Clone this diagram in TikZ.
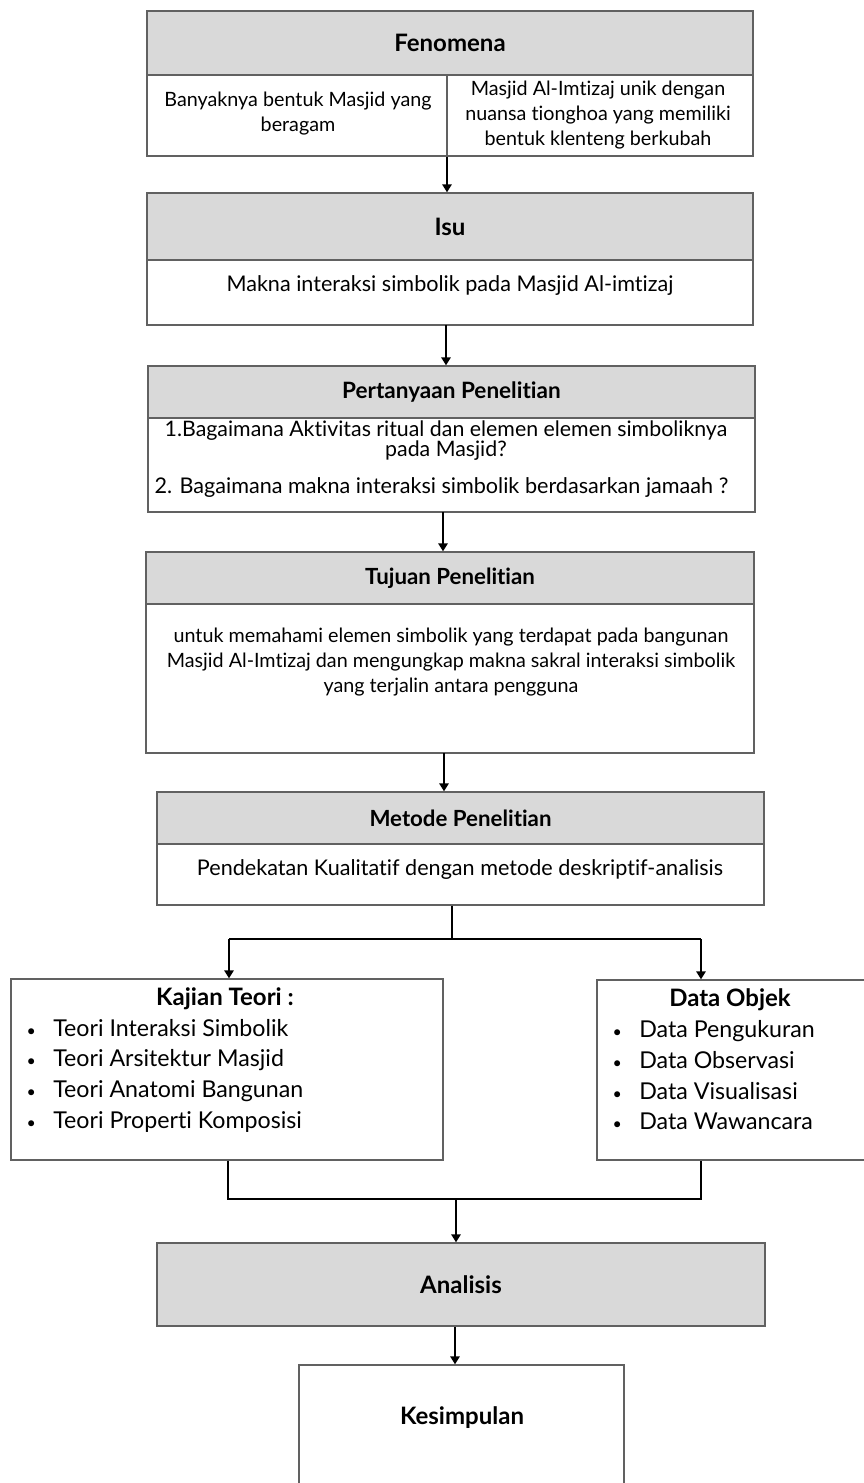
\documentclass[tikz,border=0pt]{standalone}
\usepackage{fontspec}
\setmainfont{Lato}[Ligatures=NoCommon]
\usetikzlibrary{arrows.meta,fit}
\definecolor{boxc}{gray}{0.38}
\definecolor{headc}{gray}{0.85}
\newcommand{\smbullet}{{\fontsize{12}{12}\selectfont\textbullet}}
\begin{document}
\begin{tikzpicture}[x=0.75pt,y=-0.75pt,
 box/.style={draw=boxc, line width=1pt, inner sep=0pt},
 head/.style={box, fill=headc},
 arr/.style={line width=1.4pt, -{Triangle[length=6pt,width=7pt]}},
 ln/.style={line width=1.4pt},
 ttl/.style={font=\fontsize{18}{21}\selectfont\bfseries},
 txt/.style={font=\fontsize{14.8}{18.8}\selectfont, align=center},
 big/.style={font=\fontsize{16.2}{20}\selectfont, align=center},
 itm/.style={font=\fontsize{17.4}{20}\selectfont, anchor=base west, inner sep=0pt},
]
\useasboundingbox (0,0) rectangle (863,1483);
\fill[white] (0,0) rectangle (863,1483);

% Fenomena
\node[box, fit={(147,11) (753,156)}] (fen) {};
\node[head, fit={(147,11) (753,75)}] (fenh) {};
\node[ttl] (fent) at (fenh.center) {Fenomena};
\coordinate (div) at (447,75);
\draw[draw=boxc, line width=1pt] (div) -- (div |- fen.south);
\node[txt] (fen1) at (298,114) {Banyaknya bentuk Masjid yang\\beragam};
\node[txt] (fen2) at (598,115) {Masjid Al-Imtizaj unik dengan\\nuansa tionghoa yang memiliki\\bentuk klenteng berkubah};

% Isu
\node[box, fit={(147,193) (753,325)}] (isu) {};
\node[head, fit={(147,193) (753,260)}] (isuh) {};
\node[ttl] (isut) at (isuh.center) {Isu};
\node[big] (isu1) at (450,286) {Makna interaksi simbolik pada Masjid Al-imtizaj};

% Pertanyaan
\node[box, fit={(148,366) (755,512)}] (per) {};
\node[head, fit={(148,366) (755,418)}] (perh) {};
\node[ttl, font=\fontsize{16.9}{20}\selectfont\bfseries] (pert) at (perh.center) {Pertanyaan Penelitian};
\node[big, font=\fontsize{16}{15}\selectfont] (per1) at (446,441) {1.Bagaimana Aktivitas ritual dan elemen elemen simboliknya\\pada Masjid?};
\node[big, anchor=west, inner xsep=1pt] (per2) at (153,488) {2. Bagaimana makna interaksi simbolik berdasarkan jamaah ?};

% Tujuan
\node[box, fit={(146,552) (754,753)}] (tuj) {};
\node[head, fit={(146,552) (754,604)}] (tujh) {};
\node[ttl, font=\fontsize{16.7}{20}\selectfont\bfseries] (tujt) at (tujh.center) {Tujuan Penelitian};
\node[txt] (tuj1) at (451,662) {untuk memahami elemen simbolik yang terdapat pada bangunan\\Masjid Al-Imtizaj dan mengungkap makna sakral interaksi simbolik\\yang terjalin antara pengguna};

% Metode
\node[box, fit={(157,792) (764,905)}] (met) {};
\node[head, fit={(157,792) (764,844)}] (meth) {};
\node[ttl, font=\fontsize{16.7}{20}\selectfont\bfseries] (mett) at (meth.center) {Metode Penelitian};
\node[big] (met1) at (460,870) {Pendekatan Kualitatif dengan metode deskriptif-analisis};

% Kajian Teori
\node[box, fit={(11,979) (443,1160)}] (kaj) {};
\node[ttl] (kajt) at (225,999) {Kajian Teori :};
\foreach \t/\yy [count=\i] in {Teori Interaksi Simbolik/1029, Teori Arsitektur Masjid/1059, Teori Anatomi Bangunan/1090, Teori Properti Komposisi/1121}{
  \node[itm] (kaj\i) at (53,\yy+7) {\llap{\smbullet\hspace{13pt}}\t};
}

% Data Objek
\node[box, fit={(597,980) (868,1160)}] (dat) {};
\node[ttl] (datt) at (730,1000) {Data Objek};
\foreach \t/\yy [count=\i] in {Data Pengukuran/1030, Data Observasi/1061, Data Visualisasi/1092, Data Wawancara/1122}{
  \node[itm] (dat\i) at (639,\yy+7) {\llap{\smbullet\hspace{13pt}}\t};
}

% Analisis
\node[head, fit={(157,1243) (765,1326)}] (ana) {};
\node[ttl] (anat) at (ana.center) {Analisis};

% Kesimpulan
\node[box, fit={(299,1365) (624,1495)}] (kes) {};
\node[ttl] (kest) at (462,1418) {Kesimpulan};

% connectors
\draw[arr] (div |- fen.south) -- (div |- isu.north);
\draw[arr] (446,325) coordinate (a1) -- (a1 |- per.north);
\draw[arr] (443,512) coordinate (a2) -- (a2 |- tuj.north);
\draw[arr] (444,753) coordinate (a3) -- (a3 |- met.north);
\coordinate (sp) at (452,939);
\coordinate (spl) at (229,939);
\coordinate (spr) at (701,939);
\draw[ln] (sp |- met.south) -- (sp);
\draw[ln] (spl) -- (spr);
\draw[arr] (spl) -- (spl |- kaj.north);
\draw[arr] (spr) -- (spr |- dat.north);
\coordinate (jl) at (228,1199);
\coordinate (jr) at (701,1199);
\coordinate (jm) at (456,1199);
\draw[ln] (jl |- kaj.south) -- (jl) -- (jr) -- (jr |- dat.south);
\draw[arr] (jm) -- (jm |- ana.north);
\draw[arr] (455,1327) coordinate (a4) -- (a4 |- kes.north);
\end{tikzpicture}
\end{document}
